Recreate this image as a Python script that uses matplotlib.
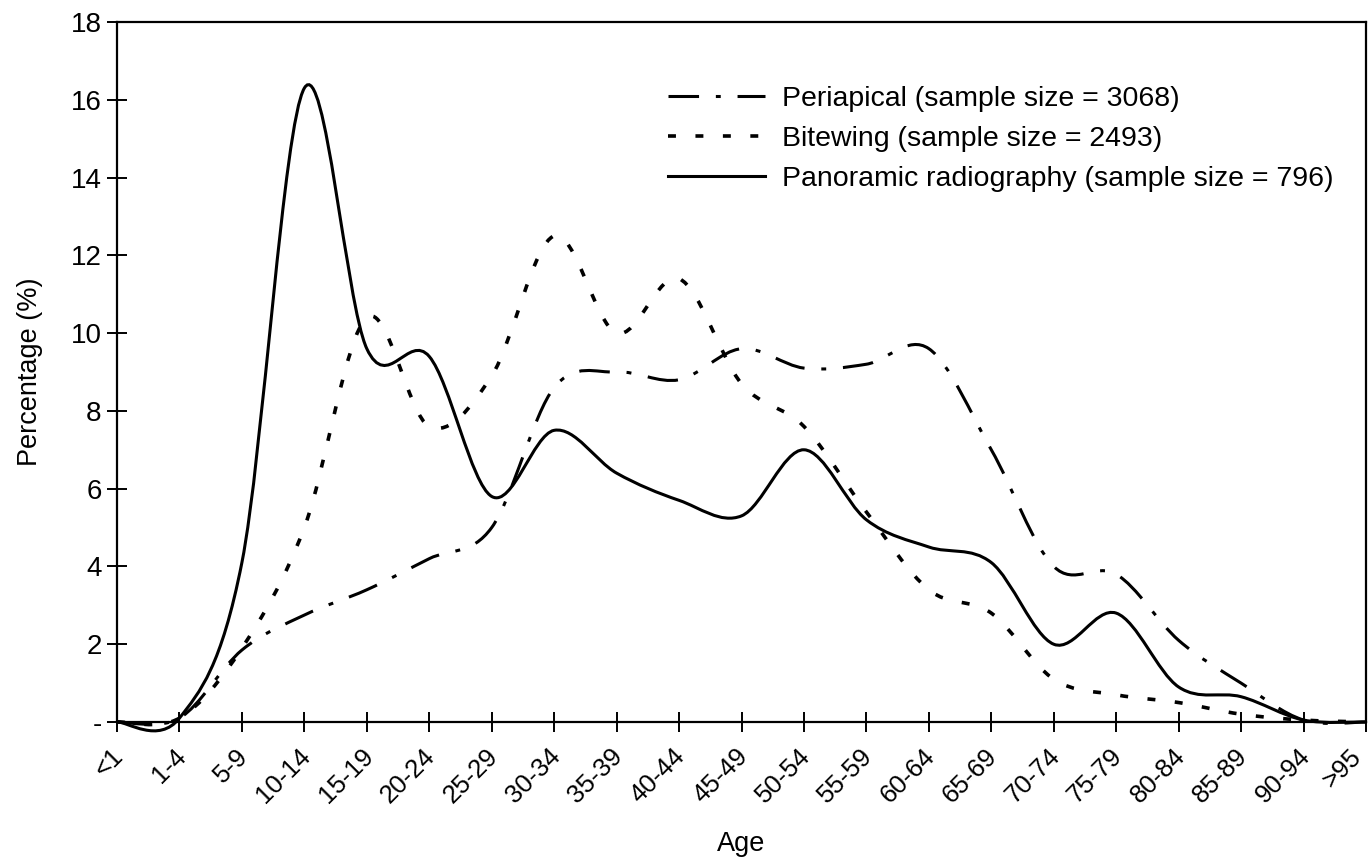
import numpy as np
import matplotlib.pyplot as plt
import matplotlib.transforms as mtransforms
from matplotlib.path import Path
from matplotlib.patches import PathPatch
from matplotlib.lines import Line2D

plt.rcParams['font.family'] = ['Liberation Sans', 'DejaVu Sans']

# data
ages = ['<1', '1-4', '5-9', '10-14', '15-19', '20-24', '25-29', '30-34', '35-39',
        '40-44', '45-49', '50-54', '55-59', '60-64', '65-69', '70-74', '75-79',
        '80-84', '85-89', '90-94', '>95']
periapical = [0, 0.1, 1.85, 2.75, 3.4, 4.2, 5.0, 8.6, 9.0, 8.8, 9.6, 9.1, 9.2, 9.6,
              7.0, 4.0, 3.8, 2.1, 1.0, 0.05, 0]
bitewing = [0, 0.1, 1.9, 5.0, 10.4, 7.6, 8.9, 12.5, 10.0, 11.4, 8.7, 7.6, 5.4, 3.4,
            2.8, 1.1, 0.7, 0.5, 0.2, 0.05, 0]
panoramic = [0, 0.1, 4.1, 16.3, 9.6, 9.4, 5.8, 7.5, 6.4, 5.7, 5.3, 7.0, 5.2, 4.5,
             4.1, 2.0, 2.8, 0.9, 0.65, 0.05, 0]
labels = ['Periapical (sample size = 3068)',
          'Bitewing (sample size = 2493)',
          'Panoramic radiography (sample size = 796)']
yticks = [0, 2, 4, 6, 8, 10, 12, 14, 16, 18]
ytick_labels = ['-', '2', '4', '6', '8', '10', '12', '14', '16', '18']


def smooth_path(ys):
    # excel-like smoothed line: bezier segments with catmull-rom control points
    xs = np.arange(len(ys), dtype=float)
    ys = np.asarray(ys, dtype=float)
    n = len(xs)
    verts = [(xs[0], ys[0])]
    codes = [Path.MOVETO]
    for i in range(n - 1):
        a = max(i - 1, 0)
        b = min(i + 2, n - 1)
        c1 = (xs[i] + (xs[i + 1] - xs[a]) / 6, ys[i] + (ys[i + 1] - ys[a]) / 6)
        c2 = (xs[i + 1] - (xs[b] - xs[i]) / 6, ys[i + 1] - (ys[b] - ys[i]) / 6)
        verts += [c1, c2, (xs[i + 1], ys[i + 1])]
        codes += [Path.CURVE4] * 3
    return Path(verts, codes)


fig = plt.figure(figsize=(13.69, 8.66), dpi=100)
ax = fig.add_axes([117 / 1369, 144 / 866, 1249 / 1369, 700 / 866])

styles = [(0, (10, 5.5, 1.6, 5.5)), (0, (2.2, 5.4)), '-']
widths = [2.2, 2.6, 2.2]
handles = []
for vals, ls, w in zip([periapical, bitewing, panoramic], styles, widths):
    patch = PathPatch(smooth_path(vals), facecolor='none', edgecolor='black',
                      lw=w, linestyle=ls, clip_on=False, capstyle='butt')
    ax.add_patch(patch)
    handles.append(Line2D([], [], color='black', lw=w, linestyle=ls))

ax.set_xlim(0, len(ages) - 1)
ax.set_ylim(0, 18)

ax.set_xticks(np.arange(len(ages)))
ax.set_xticklabels(ages, rotation=45, ha='right', va='top', rotation_mode='anchor')
ax.set_yticks(yticks)
ax.set_yticklabels(ytick_labels)

ax.tick_params(axis='both', direction='inout', length=14, width=1.4, color='black')
ax.tick_params(axis='y', pad=4, labelsize=20)
ax.tick_params(axis='x', pad=9, labelsize=18.5)
xlabs = ax.get_xticklabels()
for i, lab in enumerate(xlabs):
    # last label sits against the right edge of the picture
    dx = -17 if i == len(xlabs) - 1 else -6
    shift = mtransforms.ScaledTranslation(dx / 100, 0, fig.dpi_scale_trans)
    lab.set_transform(lab.get_transform() + shift)
for sp in ax.spines.values():
    sp.set_linewidth(1.6)

ax.set_xlabel('Age', fontsize=19.5, labelpad=17)
ax.set_ylabel('Percentage (%)', fontsize=19.5, labelpad=20)

ax.legend(handles, labels, loc='upper left', bbox_to_anchor=(0.441, 0.909),
          frameon=False, fontsize=20.5, handlelength=3.4, handletextpad=0.62,
          labelspacing=0.5, borderpad=0, borderaxespad=0)

fig.savefig('out.png', dpi=100)
